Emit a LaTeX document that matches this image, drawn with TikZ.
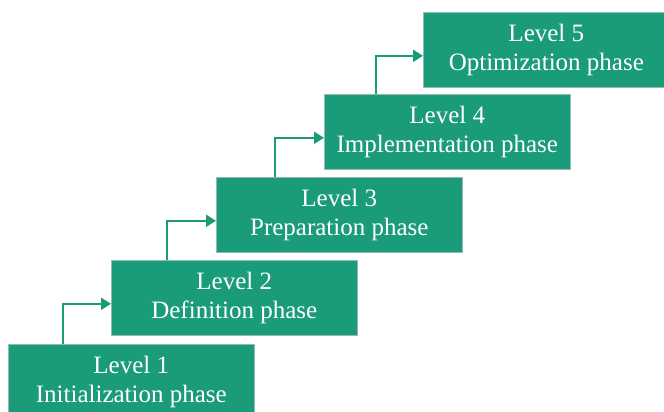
\documentclass[tikz,border=0pt]{standalone}
\usepackage{fontspec}
\setmainfont{Liberation Serif}
\usetikzlibrary{arrows.meta}
\definecolor{stepgreen}{RGB}{26,155,122}
\tikzset{
  phase/.style={fill=stepgreen, draw=stepgreen!55!gray!60, line width=0.6pt,
    minimum width=246pt, minimum height=75pt, anchor=north west, align=center,
    text=white, inner sep=0pt, font=\fontsize{25}{29}\selectfont},
  link/.style={draw=stepgreen, line width=2pt, -{Triangle[length=10pt,width=12pt]}}
}
\begin{document}
\begin{tikzpicture}[x=1pt, y=-1pt]
  \useasboundingbox (0,0) rectangle (664,412);
  \clip (0,0) rectangle (664,412);
  % the five levels
  \foreach \i/\x/\y/\t in {1/8/344/Initialization, 2/111/260/Definition, 3/216/177/Preparation, 4/324/94/Implementation, 5/423/12/Optimization}
    \node[phase] (b\i) at (\x,\y) {Level \i\\ \t\ phase};
  % step arrows
  \foreach \i/\j/\dx in {1/2/55, 2/3/56, 3/4/59, 4/5/52}
    \draw[link] ([xshift=\dx pt]b\i.north west) |- ([yshift=-6pt]b\j.west);
\end{tikzpicture}
\end{document}
